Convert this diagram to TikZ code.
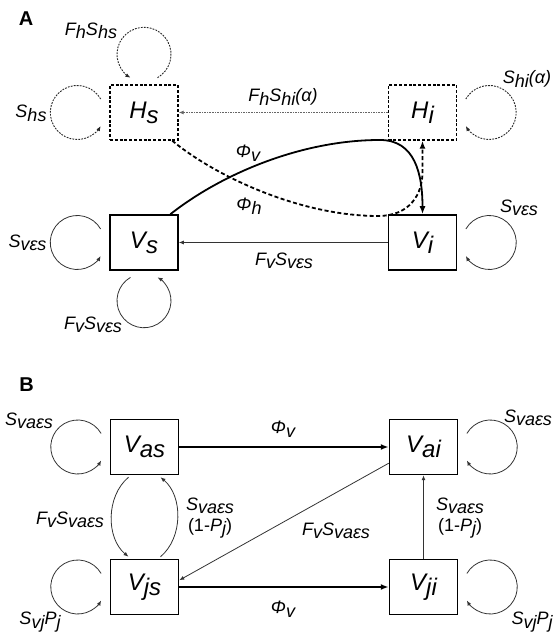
\documentclass[tikz,border=0pt]{standalone}
\usepackage{fontspec}
\setmainfont{Liberation Sans}
\usetikzlibrary{arrows.meta,calc}
\newcommand{\dn}[1]{\raisebox{-0.2em}{#1}}
\newcommand{\loopleft}[2]{\path (#1.west) ++(-32,0) coordinate (lc);
  \draw[#2] ([shift={(30:27)}]lc) arc[start angle=30,end angle=330,radius=27];}
\newcommand{\loopright}[2]{\path (#1.east) ++(32,0) coordinate (lc);
  \draw[#2] ([shift={(150:27)}]lc) arc[start angle=150,end angle=-150,radius=27];}
\newcommand{\looptop}[2]{\path (#1.north) ++(0,30) coordinate (lc);
  \draw[#2] ([shift={(-60:27)}]lc) arc[start angle=-60,end angle=240,radius=27];}
\newcommand{\loopbottom}[2]{\path (#1.south) ++(0,-30) coordinate (lc);
  \draw[#2] ([shift={(120:27)}]lc) arc[start angle=120,end angle=420,radius=27];}
\begin{document}
\begin{tikzpicture}[x=1pt,y=1pt,
  box/.style={draw, line width=1.5pt, minimum width=68pt, minimum height=55pt, inner sep=0pt,
    font=\fontsize{24}{26}\selectfont\itshape},
  hbox/.style={box, dash pattern=on 3pt off 1.8pt, line width=1.4pt},
  lab/.style={font=\fontsize{18}{20}\selectfont\itshape, inner sep=0pt, align=center},
  panel/.style={font=\fontsize{20}{22}\selectfont\bfseries, inner sep=0pt},
  thinarr/.style={draw=black!80, line width=0.8pt, -{Latex[length=5pt,width=4pt]}},
  dotarr/.style={draw=black!85, line width=0.9pt, dash pattern=on 1.8pt off 1.2pt, -{Latex[length=5pt,width=4pt]}},
  hdot/.style={draw=black!60, line width=0.9pt, dash pattern=on 1.6pt off 1pt, -{Latex[length=5pt,width=4pt]}},
  thickarr/.style={draw=black, line width=1.8pt, -{Latex[length=8pt,width=6pt]}},
  dasharr/.style={thickarr, dash pattern=on 4pt off 2.5pt}]
\useasboundingbox (0,0) rectangle (554,634);

% Panel A
\node[panel] (pA) at (26,615.5) {A};
\node[hbox] (Hs) at (144,521.5) {H\dn{s}};
\node[hbox] (Hi) at (422.5,521.5) {H\dn{i}};
\node[box] (Vs) at (144,391.5) {V\dn{s}};
\node[box] (Vi) at (422.5,391.5) {V\dn{i}};

\looptop{Hs}{dotarr}
\loopleft{Hs}{dotarr}
\loopright{Hi}{dotarr}
\draw[hdot] (Hi.west) -- (Hs.east);

\loopleft{Vs}{thinarr}
\loopbottom{Vs}{thinarr}
\loopright{Vi}{thinarr}
\draw[thinarr] (Vi.west) -- (Vs.east);

\draw[thickarr] (Vs.47) .. controls (220,459) and (300,494) .. (380,494)
  .. controls (415,494) and (422.5,460) .. (Vi.north);
\draw[dasharr] (Hs.315) .. controls (215,458) and (300,418) .. (378,418)
  .. controls (410,418) and (422.5,440) .. (422.5,462) -- (Hi.south);

\node[lab] (l1) at (91,603) {F\dn{h}S\dn{hs}};
\node[lab] (l2) at (31,520.5) {S\dn{hs}};
\node[lab] (l3) at (283,537) {F\dn{h}S\dn{hi}(α)};
\node[lab] (l4) at (527,555) {S\dn{hi}(α)};
\node[lab] (l5) at (248,481) {Φ\dn{v}};
\node[lab] (l6) at (249,428) {Φ\dn{h}};
\node[lab] (l7) at (27.5,391) {S\dn{vεs}};
\node[lab] (l8) at (519,426) {S\dn{vεs}};
\node[lab] (l9) at (284,373) {F\dn{v}S\dn{vεs}};
\node[lab] (l10) at (93,309) {F\dn{v}S\dn{vεs}};

% Panel B
\node[panel] (pB) at (26.5,249) {B};
\node[box] (Vas) at (144.5,187) {V\dn{as}};
\node[box] (Vai) at (423.5,187) {V\dn{ai}};
\node[box] (Vjs) at (144.5,47) {V\dn{js}};
\node[box] (Vji) at (423.5,47) {V\dn{ji}};

\loopleft{Vas}{thinarr}
\loopright{Vai}{thinarr}
\loopleft{Vjs}{thinarr}
\loopright{Vji}{thinarr}

\draw[thickarr] (Vas.east) -- (Vai.west);
\draw[thickarr] (Vjs.east) -- (Vji.west);
\draw[thinarr] (Vji.north) -- (Vai.south);
\draw[thinarr] (Vai.205) -- (Vjs.11);
\draw[thinarr] ([shift={(-16,-2)}]Vas.south) to[out=220,in=140,looseness=0.95] ([shift={(-16,2)}]Vjs.north);
\draw[thinarr] ([shift={(16,2)}]Vjs.north) to[out=40,in=-40,looseness=0.95] ([shift={(16,-2)}]Vas.south);

\node[lab] (m1) at (29,213) {S\dn{vaεs}};
\node[lab] (m2) at (528,216) {S\dn{vaεs}};
\node[lab] (m3) at (283,205) {Φ\dn{v}};
\node[lab] (m4) at (283,25) {Φ\dn{v}};
\node[lab] (m5) at (70,114) {F\dn{v}S\dn{vaεs}};
\node[lab] (m6) at (210,116) {S\dn{vaεs}\\[1pt]\upshape(1-\itshape P\dn{j}\upshape)};
\node[lab] (m7) at (460,116) {S\dn{vaεs}\\[1pt]\upshape(1-\itshape P\dn{j}\upshape)};
\node[lab] (m8) at (336,103) {F\dn{v}S\dn{vaεs}};
\node[lab] (m9) at (40,12) {S\dn{vj}P\dn{j}};
\node[lab] (m10) at (532,12) {S\dn{vj}P\dn{j}};
\end{tikzpicture}
\end{document}
